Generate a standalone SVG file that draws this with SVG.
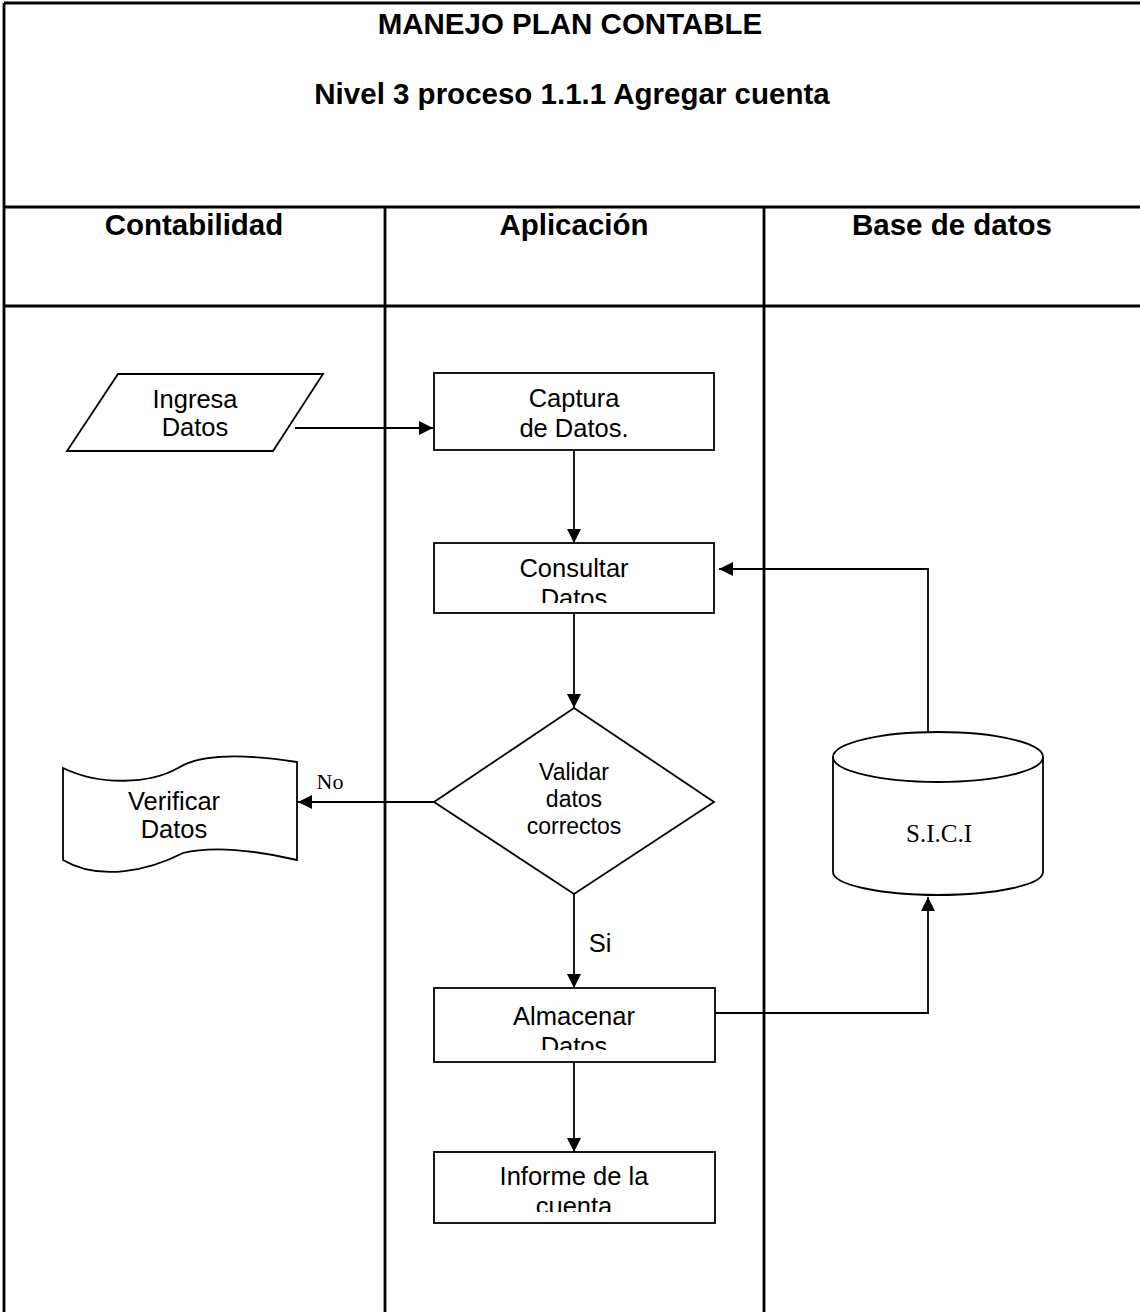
<svg xmlns="http://www.w3.org/2000/svg" width="1140" height="1312" viewBox="0 0 1140 1312">
<style>
.grid{stroke:#000;stroke-width:2.8;fill:none}
.node{fill:#fff;stroke:#000;stroke-width:1.8}
.conn{stroke:#000;stroke-width:1.8;fill:none}
.hd{font-family:"Liberation Sans",Arial,sans-serif;font-weight:bold;font-size:29.5px;text-anchor:middle;fill:#000}
.lb{font-family:"Liberation Sans",Arial,sans-serif;font-size:25.5px;text-anchor:middle;fill:#000}
.dm{font-family:"Liberation Sans",Arial,sans-serif;font-size:23px;text-anchor:middle;fill:#000}
.tm{font-family:"Liberation Serif","Times New Roman",serif;text-anchor:middle;fill:#000}
</style>
<defs>
<marker id="arr" markerUnits="userSpaceOnUse" markerWidth="14" markerHeight="14" viewBox="0 0 14 14" refX="14" refY="7" orient="auto">
<path d="M0,0 L14,7 L0,14 Z" fill="#000"/>
</marker>
<clipPath id="c1"><rect x="434" y="543" width="280" height="60"/></clipPath>
<clipPath id="c2"><rect x="434" y="988" width="281" height="62"/></clipPath>
<clipPath id="c3"><rect x="434" y="1152" width="281" height="60"/></clipPath>
</defs>
<rect width="1140" height="1312" fill="#fff"/>
<g id="table">
<line class="grid" x1="4" y1="3" x2="1140" y2="3"/>
<line class="grid" x1="4" y1="3" x2="4" y2="1312"/>
<line class="grid" x1="4" y1="207" x2="1140" y2="207"/>
<line class="grid" x1="4" y1="306" x2="1140" y2="306"/>
<line class="grid" x1="385" y1="207" x2="385" y2="1312"/>
<line class="grid" x1="764" y1="207" x2="764" y2="1312"/>
<text class="hd" x="570" y="34">MANEJO PLAN CONTABLE</text>
<text class="hd" x="572" y="104">Nivel 3 proceso 1.1.1 Agregar cuenta</text>
<text class="hd" x="194" y="235">Contabilidad</text>
<text class="hd" x="574" y="235">Aplicación</text>
<text class="hd" x="952" y="235">Base de datos</text>
</g>
<g id="connectors">
<line class="conn" x1="295" y1="428" x2="433" y2="428" marker-end="url(#arr)"/>
<line class="conn" x1="574" y1="450" x2="574" y2="543" marker-end="url(#arr)"/>
<line class="conn" x1="574" y1="613" x2="574" y2="708" marker-end="url(#arr)"/>
<line class="conn" x1="434" y1="802" x2="298" y2="802" marker-end="url(#arr)"/>
<line class="conn" x1="574" y1="894" x2="574" y2="988" marker-end="url(#arr)"/>
<line class="conn" x1="574" y1="1062" x2="574" y2="1152" marker-end="url(#arr)"/>
<polyline class="conn" points="928,732 928,569 719,569" marker-end="url(#arr)"/>
<polyline class="conn" points="715,1013 928,1013 928,897" marker-end="url(#arr)"/>
<text class="tm" x="330" y="789" font-size="22">No</text>
<text class="lb" x="600" y="952" font-size="24">Si</text>
</g>
<g id="ingresa">
<polygon class="node" points="118,374 323,374 273,451 67,451"/>
<text class="lb" x="195" y="408">Ingresa</text>
<text class="lb" x="195" y="436">Datos</text>
</g>
<g id="captura">
<rect class="node" x="434" y="373" width="280" height="77"/>
<text class="lb" x="574" y="407">Captura</text>
<text class="lb" x="574" y="437">de Datos.</text>
</g>
<g id="consultar">
<rect class="node" x="434" y="543" width="280" height="70"/>
<g clip-path="url(#c1)">
<text class="lb" x="574" y="577">Consultar</text>
<text class="lb" x="574" y="607">Datos</text>
</g>
</g>
<g id="validar">
<polygon class="node" points="574,708 714,802 574,894 434,802"/>
<text class="dm" x="574" y="780">Validar</text>
<text class="dm" x="574" y="807">datos</text>
<text class="dm" x="574" y="834">correctos</text>
</g>
<g id="verificar">
<path class="node" d="M63,768 C100,786 150,784 178,768 C200,754 245,754 297,762 L297,860 C255,850 212,846 183,853 C150,870 100,882 63,860 Z"/>
<text class="lb" x="174" y="810">Verificar</text>
<text class="lb" x="174" y="838">Datos</text>
</g>
<g id="sici">
<path class="node" d="M833,757 L833,872 A105,23 0 0 0 1043,872 L1043,757"/>
<ellipse class="node" cx="938" cy="757" rx="105" ry="25"/>
<text class="tm" x="939" y="842" font-size="25">S.I.C.I</text>
</g>
<g id="almacenar">
<rect class="node" x="434" y="988" width="281" height="74"/>
<g clip-path="url(#c2)">
<text class="lb" x="574" y="1025">Almacenar</text>
<text class="lb" x="574" y="1055">Datos</text>
</g>
</g>
<g id="informe">
<rect class="node" x="434" y="1152" width="281" height="71"/>
<g clip-path="url(#c3)">
<text class="lb" x="574" y="1185">Informe de la</text>
<text class="lb" x="574" y="1215">cuenta</text>
</g>
</g>
</svg>
